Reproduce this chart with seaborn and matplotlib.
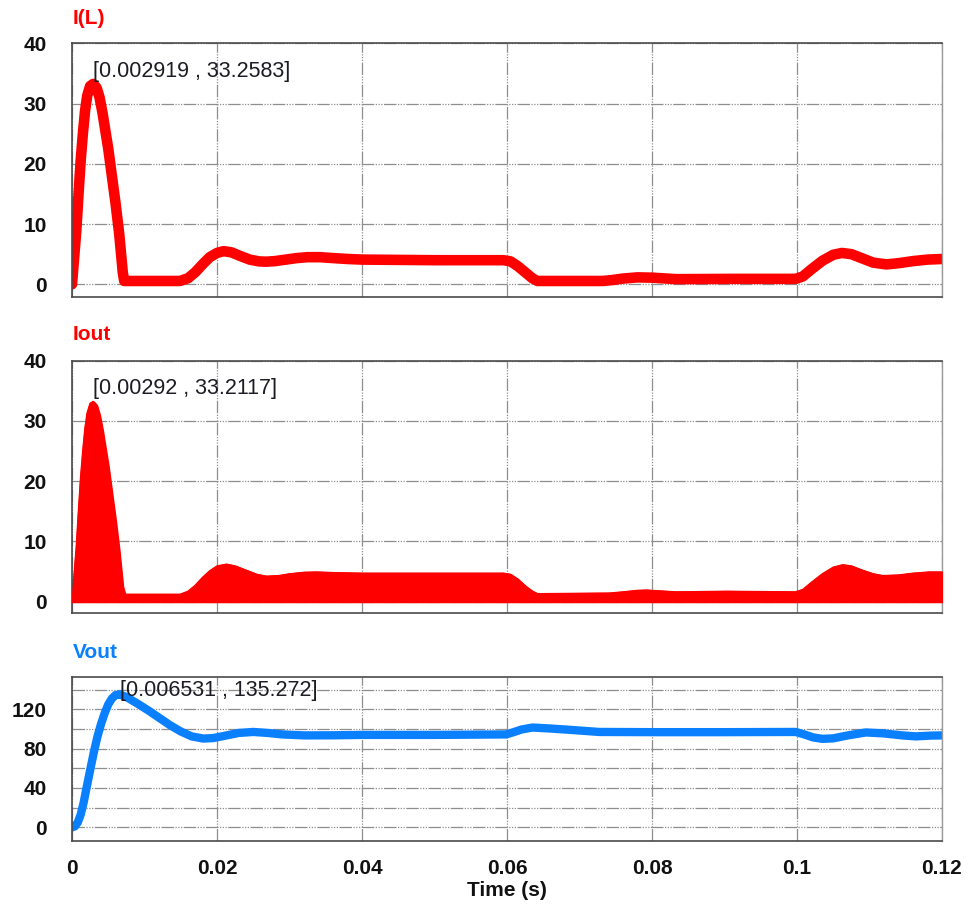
import matplotlib
matplotlib.use("Agg")
import matplotlib.pyplot as plt
import seaborn as sns

# ---------------- data ----------------
t_il = [0, 0.0003, 0.0006, 0.0009, 0.0012, 0.0015, 0.0018, 0.0021, 0.0025, 0.002919,
        0.0034, 0.0038, 0.0042, 0.0046, 0.0050, 0.0055, 0.0060, 0.0065, 0.0070, 0.0072,
        0.0149, 0.0160, 0.0170, 0.0180, 0.0190, 0.0200, 0.0209, 0.0220, 0.0232, 0.0245,
        0.0258, 0.0268, 0.0280, 0.0295, 0.0310, 0.0325, 0.0342, 0.0360, 0.0380, 0.0400,
        0.0500, 0.0595, 0.0605, 0.0615, 0.0625, 0.0635, 0.0642, 0.0732, 0.0745, 0.0760,
        0.0780, 0.0800, 0.0834, 0.0910, 0.0998, 0.1008, 0.1020, 0.1035, 0.1050, 0.1062,
        0.1075, 0.1090, 0.1105, 0.1123, 0.1140, 0.1160, 0.1180, 0.1200]
il = [0, 4.5, 9, 15, 20.6, 25, 28.8, 31.3, 32.9, 33.2583,
      32.6, 31, 28.5, 25.5, 22.5, 18, 13.5, 8.5, 2, 0.55,
      0.55, 1.0, 2.0, 3.3, 4.5, 5.2, 5.5, 5.3, 4.7, 4.1,
      3.8, 3.75, 3.85, 4.1, 4.35, 4.5, 4.5, 4.35, 4.2, 4.1,
      4.0, 4.0, 3.8, 3.0, 2.0, 1.0, 0.55, 0.55, 0.7, 0.95,
      1.15, 1.1, 0.85, 0.9, 0.9, 1.3, 2.5, 3.9, 4.9, 5.2,
      5.0, 4.3, 3.6, 3.3, 3.5, 3.85, 4.1, 4.2]

t_io = [0, 0.0003, 0.0006, 0.0009, 0.0012, 0.0015, 0.0018, 0.0021, 0.0025, 0.00292,
        0.0034, 0.0038, 0.0042, 0.0046, 0.0050, 0.0055, 0.0060, 0.0065, 0.0070, 0.0073,
        0.0149, 0.0160, 0.0170, 0.0180, 0.0190, 0.0200, 0.0213, 0.0225, 0.0240, 0.0255,
        0.0268, 0.0285, 0.0300, 0.0320, 0.0337, 0.0360, 0.0400, 0.0500, 0.0595, 0.0605,
        0.0615, 0.0625, 0.0635, 0.0642, 0.0741, 0.0760, 0.0780, 0.0792, 0.0833, 0.0902,
        0.0998, 0.1008, 0.1020, 0.1035, 0.1050, 0.1063, 0.1075, 0.1090, 0.1105, 0.1118,
        0.1140, 0.1160, 0.1182, 0.1200]
io = [0, 4.5, 9, 15, 20.6, 25, 28.8, 31.3, 32.9, 33.2117,
      32.6, 31, 28.5, 25.5, 22.5, 18, 13.5, 8.5, 2.5, 1.2,
      1.2, 1.7, 2.7, 4.0, 5.1, 5.9, 6.2, 5.9, 5.2, 4.5,
      4.2, 4.3, 4.6, 4.85, 4.9, 4.8, 4.7, 4.7, 4.7, 4.5,
      3.7, 2.6, 1.7, 1.3, 1.4, 1.6, 1.85, 1.9, 1.6, 1.7,
      1.6, 2.0, 3.2, 4.6, 5.7, 6.1, 5.9, 5.2, 4.6, 4.3,
      4.4, 4.7, 4.9, 4.9]

t_v = [0, 0.0004, 0.0008, 0.0012, 0.0016, 0.0020, 0.0025, 0.0030, 0.0035, 0.0040,
       0.0045, 0.0050, 0.0055, 0.0060, 0.006531, 0.0075, 0.0090, 0.0105, 0.0121, 0.0135,
       0.0150, 0.0165, 0.0181, 0.0195, 0.0210, 0.0230, 0.0250, 0.0270, 0.0290, 0.0320,
       0.0360, 0.0400, 0.0500, 0.0599, 0.0610, 0.0620, 0.0635, 0.0660, 0.0690, 0.0727,
       0.0800, 0.0900, 0.0998, 0.1010, 0.1022, 0.1035, 0.1050, 0.1070, 0.1095, 0.1120,
       0.1145, 0.1164, 0.1185, 0.1200]
vout = [0, 1, 5, 13, 25, 40, 58, 76, 92, 105,
        116, 125, 131, 134.5, 135.272, 132.5, 126, 119, 111, 104,
        97.5, 92.5, 90.3, 90.8, 93, 96, 97, 96, 94.5, 93.5,
        93.6, 94, 94, 94.5, 97, 99.5, 101.5, 100.5, 99, 97,
        96.8, 96.8, 97, 94.5, 91.5, 90, 90.5, 93.5, 96.5, 95.5,
        93.5, 92.5, 93.3, 93.5]

x_ticks = [0, 0.02, 0.04, 0.06, 0.08, 0.1, 0.12]
x_ticklabels = ["0", "0.02", "0.04", "0.06", "0.08", "0.1", "0.12"]
i_ticks = [0, 10, 20, 30, 40]
v_ticks = [0, 40, 80, 120]
v_grid = [0, 20, 40, 60, 80, 100, 120, 140]

titles = ["I(L)", "Iout", "Vout"]
peaks = [(0.002919, 33.2583, "[0.002919 , 33.2583]"),
         (0.00292, 33.2117, "[0.00292 , 33.2117]"),
         (0.006531, 135.272, "[0.006531 , 135.272]")]

# ---------------- style ----------------
sns.set_style("white")
plt.rcParams['font.family'] = ['Liberation Sans', 'DejaVu Sans']

RED = "#ff0000"
BLUE = "#0a80ff"
GRID = "#8e8e8e"
grid_ls = (0, (10, 1.2, 1, 1.2, 1, 1.2, 1, 1.2))

W, H = 968, 906
fig = plt.figure(figsize=(W / 100, H / 100), dpi=100)

def rect(top, bottom, left=72, right=942):
    return [left / W, 1 - bottom / H, (right - left) / W, (bottom - top) / H]

ax1 = fig.add_axes(rect(43.3, 296.7))
ax2 = fig.add_axes(rect(360.7, 612.7))
ax3 = fig.add_axes(rect(676.7, 840.7))
axes = [ax1, ax2, ax3]

# I(L)
sns.lineplot(x=t_il, y=il, ax=ax1, color=RED, linewidth=7.6, estimator=None,
             solid_capstyle="round", solid_joinstyle="round")
# Iout (filled switching current)
ax2.fill_between(t_io, 0, io, color=RED, linewidth=1.5, edgecolor=RED, zorder=3)
sns.lineplot(x=t_io, y=io, ax=ax2, color=RED, linewidth=1.2, estimator=None)
# Vout
sns.lineplot(x=t_v, y=vout, ax=ax3, color=BLUE, linewidth=6.0, estimator=None,
             solid_capstyle="round", solid_joinstyle="round")

ax1.set_ylim(-2.06, 40)
ax2.set_ylim(-1.83, 40)
ax3.set_ylim(-13.6, 153.2)

for ax in axes:
    ax.set_xlim(0, 0.12)
    ax.set_xticks(x_ticks)
    ax.set_axisbelow(True)
    ax.grid(False)
    for xv in x_ticks:
        ax.axvline(xv, color=GRID, lw=0.9, ls=grid_ls, zorder=0)
    ax.tick_params(axis="both", length=0, labelsize=15)
    for sp in ["left", "bottom", "top"]:
        ax.spines[sp].set_color("#4a4a4a")
        ax.spines[sp].set_linewidth(1.2)
    ax.spines["right"].set_color("#9a9a9a")
    ax.spines["right"].set_linewidth(1.0)
    ax.set_xlabel("")
    ax.set_ylabel("")

for ax in (ax1, ax2):
    ax.set_yticks(i_ticks)
    for yv in i_ticks:
        ax.axhline(yv, color=GRID, lw=0.9, ls=grid_ls, zorder=0)
    ax.set_xticklabels([])
ax3.set_yticks(v_ticks)
for yv in v_grid:
    ax3.axhline(yv, color=GRID, lw=0.9, ls=grid_ls, zorder=0)
ax3.set_xticklabels(x_ticklabels)

for ax in axes:
    ax.tick_params(axis="y", pad=18)
    ax.tick_params(axis="x", pad=13)
    for lab in ax.get_yticklabels() + ax.get_xticklabels():
        lab.set_fontweight("bold")
        lab.set_color("#111111")

# titles
title_y = [18, 335, 652]
title_c = [RED, RED, BLUE]
for txt, yy, cc in zip(titles, title_y, title_c):
    fig.text(73 / W, 1 - yy / H, txt, color=cc, fontsize=15, fontweight="bold",
             ha="left", va="center")

# peak annotations
offs = [(0, 8.6), (0, 9.6), (0.5, 3.1)]
for ax, (pt, pv, lab), (dx, dy) in zip(axes, peaks, offs):
    ax.annotate(lab, xy=(pt, pv), xytext=(dx, dy), textcoords="offset points",
                ha="left", va="center", fontsize=15.5, color="#1c1c24", zorder=5)

fig.text(507 / W, 1 - 890 / H, "Time (s)", fontsize=15, fontweight="bold",
         ha="center", va="center", color="#111111")

fig.savefig("out.png", dpi=100, facecolor="white")
